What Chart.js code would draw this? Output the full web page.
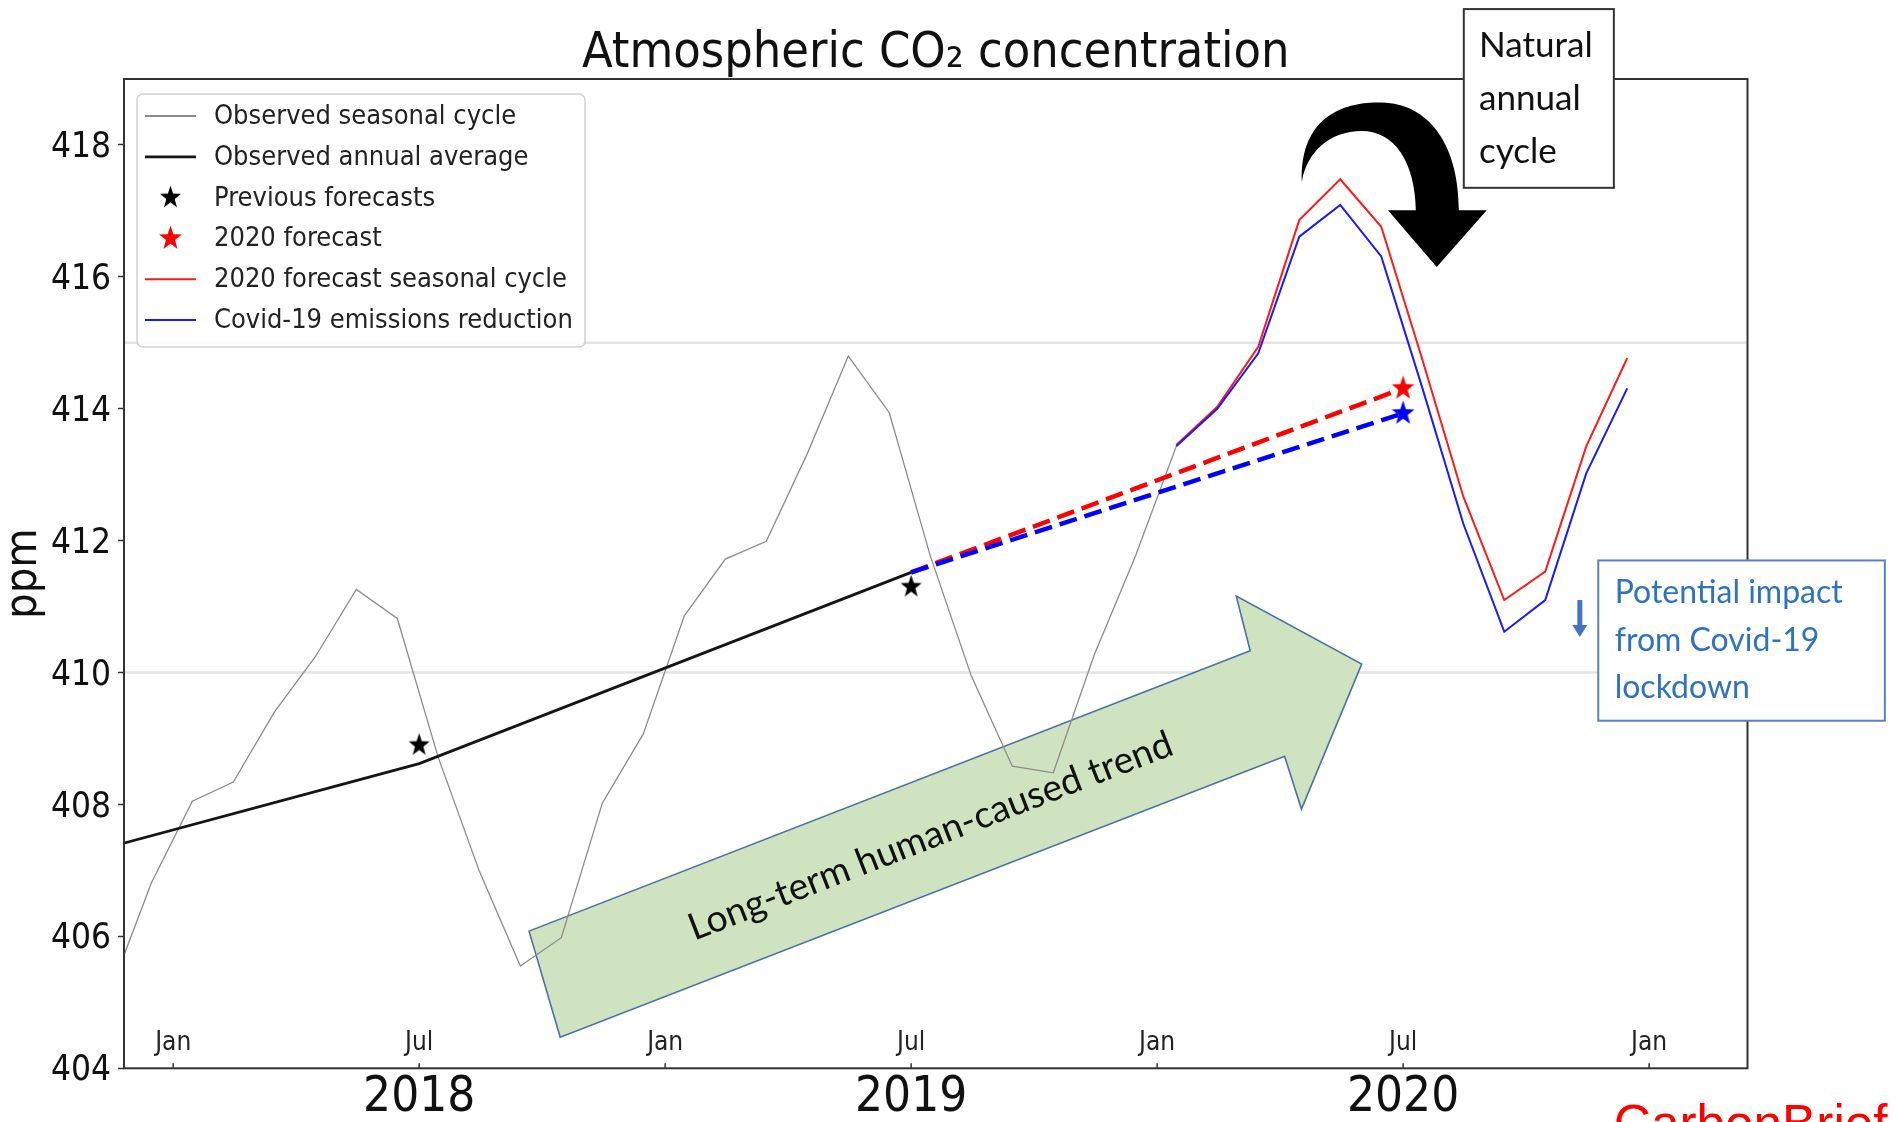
<!DOCTYPE html>
<html lang="en">
<head>
  <meta charset="UTF-8" />
  <title>Atmospheric CO2 concentration</title>
  <script src="https://cdn.jsdelivr.net/npm/chart.js"></script>
  <style>
    html, body { margin: 0; padding: 0; background: #fff; }
  </style>
</head>
<body>
  <canvas id="co2Chart" width="1898" height="1122"></canvas>

  <script>
    // --- data (ppm, monthly means plotted mid-month) ---
    const seasonalDates = ['2017-11', '2017-12',
      '2018-01', '2018-02', '2018-03', '2018-04', '2018-05', '2018-06', '2018-07', '2018-08', '2018-09', '2018-10', '2018-11', '2018-12',
      '2019-01', '2019-02', '2019-03', '2019-04', '2019-05', '2019-06', '2019-07', '2019-08', '2019-09', '2019-10', '2019-11', '2019-12',
      '2020-01'];
    const seasonalPpm = [405.17, 406.81,
      408.05, 408.34, 409.40, 410.24, 411.26, 410.82, 408.71, 406.99, 405.55, 405.98, 408.02, 409.07,
      410.86, 411.72, 411.99, 413.32, 414.80, 413.94, 411.77, 409.95, 408.58, 408.48, 410.27, 411.76,
      413.43];

    const annualDates = ['2017-07-01', '2018-07-01', '2019-07-01'];
    const annualPpm = [406.61, 408.62, 411.52];

    const previousDates = ['2018-07-01', '2019-07-01'];
    const previousPpm = [408.90, 411.30];

    const forecastDates = ['2020-07-01'];
    const forecastPpm = [414.31];
    const covidForecastPpm = [413.93];

    const cycleDates = ['2020-01', '2020-02', '2020-03', '2020-04', '2020-05', '2020-06',
      '2020-07', '2020-08', '2020-09', '2020-10', '2020-11', '2020-12'];
    const cyclePpm = [413.45, 414.03, 414.94, 416.86, 417.48, 416.76, 414.75, 412.67, 411.10, 411.53, 413.43, 414.77];
    const covidCyclePpm = [413.43, 414.00, 414.84, 416.61, 417.09, 416.31, 414.32, 412.26, 410.62, 411.10, 413.02, 414.31];

    // dashed trend from last annual average to the 2020 forecasts
    const trendDates = ['2019-07-01', '2020-07-01'];
    const trendPpm = [411.52, 414.31];
    const covidTrendPpm = [411.52, 413.93];

    // --- axes ---
    const yTicks = [404, 406, 408, 410, 412, 414, 416, 418];
    const gridValues = [410, 415];
    const monthTickDates = ['2018-01-01', '2018-07-01', '2019-01-01', '2019-07-01', '2020-01-01', '2020-07-01', '2021-01-01'];
    const monthTickNames = ['Jan', 'Jul', 'Jan', 'Jul', 'Jan', 'Jul', 'Jan'];
    const yearDates = ['2018-07-01', '2019-07-01', '2020-07-01'];
    const yearNames = ['2018', '2019', '2020'];

    // --- annotations, in (months since Jan 2018, ppm) ---
    const trendArrow = [[8.68, 406.08], [9.44, 404.47], [27.11, 408.73], [27.52, 407.93],
                        [28.99, 410.13], [25.93, 411.16], [26.27, 410.33]];
    const trendText = 'Long-term human-caused trend';
    const trendTextAt = [18.47, 407.52];

    const cycleArrow = [
      ['M', 27.53, 417.44],
      ['C', 27.48, 418.35, 28.40, 418.68, 29.58, 418.64],
      ['C', 30.70, 418.59, 31.36, 417.95, 31.36, 417.01],
      ['L', 32.04, 417.01], ['L', 30.82, 416.15], ['L', 29.63, 417.01], ['L', 30.31, 417.01],
      ['C', 30.29, 417.73, 29.80, 418.21, 28.99, 418.21],
      ['C', 28.21, 418.21, 27.65, 417.89, 27.53, 417.44]
    ];
    const naturalBox = [31.48, 420.06, 35.14, 417.35];
    const naturalLines = ['Natural', 'annual', 'cycle'];
    const naturalTextAt = [31.85, [419.34, 418.53, 417.73]];

    const covidBox = [34.76, 411.70, 41.75, 409.27];
    const covidLines = ['Potential impact', 'from Covid-19', 'lockdown'];
    const covidTextAt = [35.16, [411.06, 410.32, 409.61]];
    const covidArrow = [34.31, 411.10, 410.54];

    const FONT = '"DejaVu Sans Condensed", "DejaVu Sans", sans-serif';
    const NOTE_FONT = 'Lato, "Open Sans", sans-serif';

    function toX(s) {
      const [y, m, d] = s.split('-').map(Number);
      return (y - 2018) * 12 + (m - 1) + ((d || 15) - 1) / 30;
    }
    const pts = (dates, vals) => dates.map((d, i) => ({ x: toX(d), y: vals[i] }));

    function makeStar(color, size) {
      const c = document.createElement('canvas');
      c.width = c.height = size;
      const g = c.getContext('2d');
      const R = size / 2 - 0.5, r = R * 0.4;
      g.translate(size / 2, size / 2);
      g.scale(0.92, 1);
      g.beginPath();
      for (let i = 0; i < 10; i++) {
        const a = -Math.PI / 2 + i * Math.PI / 5;
        const rad = i % 2 ? r : R;
        g.lineTo(rad * Math.cos(a), rad * Math.sin(a));
      }
      g.closePath();
      g.fillStyle = color;
      g.fill();
      return c;
    }
    const blackStar = makeStar('#000', 25);
    const redStar = makeStar('#ff0000', 27);
    const blueStar = makeStar('#0000ff', 27);

    function fitFont(ctx, text, family, width) {
      ctx.font = '100px ' + family;
      const w = ctx.measureText(text).width;
      return (100 * width / w).toFixed(1) + 'px ' + family;
    }

    const decor = {
      id: 'decor',
      beforeDatasetsDraw(chart) {
        const { ctx, chartArea: a, scales: { x, y } } = chart;
        const P = (m, v) => [x.getPixelForValue(m), y.getPixelForValue(v)];
        ctx.save();
        ctx.strokeStyle = '#e4e4e4';
        ctx.lineWidth = 2.5;
        gridValues.forEach(v => {
          const py = y.getPixelForValue(v);
          ctx.beginPath(); ctx.moveTo(a.left, py); ctx.lineTo(a.right, py); ctx.stroke();
        });

        // green trend arrow
        ctx.beginPath();
        trendArrow.forEach(([m, v], i) => {
          const [px, py] = P(m, v);
          i ? ctx.lineTo(px, py) : ctx.moveTo(px, py);
        });
        ctx.closePath();
        ctx.fillStyle = '#d0e3c0';
        ctx.fill();
        ctx.strokeStyle = '#4a70a8';
        ctx.lineWidth = 1.6;
        ctx.stroke();

        const [ax, ay] = P(...trendArrow[0]);
        const [bx, by] = P(...trendArrow[6]);
        const [cx, cy] = P(...trendTextAt);
        ctx.translate(cx, cy);
        ctx.rotate(Math.atan2(by - ay, bx - ax));
        ctx.font = fitFont(ctx, trendText, NOTE_FONT, 516);
        ctx.fillStyle = '#111';
        ctx.textAlign = 'center';
        ctx.textBaseline = 'middle';
        ctx.fillText(trendText, 0, 0);
        ctx.restore();
      },
      afterDatasetsDraw(chart) {
        const { ctx, chartArea: a, scales: { x } } = chart;
        ctx.save();
        // frame
        ctx.strokeStyle = '#333';
        ctx.lineWidth = 2;
        ctx.strokeRect(a.left, a.top, a.right - a.left, a.bottom - a.top);

        // month ticks + labels inside the plot
        ctx.font = '26px ' + FONT;
        ctx.fillStyle = '#222';
        ctx.textAlign = 'center';
        ctx.textBaseline = 'alphabetic';
        ctx.lineWidth = 1.5;
        monthTickDates.forEach((d, i) => {
          const px = x.getPixelForValue(toX(d));
          ctx.beginPath(); ctx.moveTo(px, a.bottom); ctx.lineTo(px, a.bottom - 5); ctx.stroke();
          ctx.fillText(monthTickNames[i], px, a.bottom - 18);
        });

        // legend
        const items = chart.data.datasets.filter(d => d.inLegend);
        const lx = a.left + 13, ly = a.top + 15;
        ctx.beginPath();
        ctx.roundRect(lx, ly, 448, 253, 6);
        ctx.fillStyle = 'rgba(255,255,255,0.85)';
        ctx.fill();
        ctx.strokeStyle = '#d2d2d2';
        ctx.lineWidth = 1.5;
        ctx.stroke();
        ctx.font = '27px ' + FONT;
        ctx.textAlign = 'left';
        ctx.textBaseline = 'middle';
        items.forEach((d, i) => {
          const cy = a.top + 37 + i * 40.8;
          if (d.showLine === false) {
            const img = d.pointStyle;
            ctx.drawImage(img, a.left + 46.5 - img.width / 2, cy - img.height / 2);
          } else {
            ctx.beginPath();
            ctx.moveTo(a.left + 21, cy); ctx.lineTo(a.left + 72, cy);
            ctx.strokeStyle = d.borderColor;
            ctx.lineWidth = Math.max(d.borderWidth, 2);
            ctx.stroke();
          }
          ctx.fillStyle = '#222';
          ctx.fillText(d.label, a.left + 90, cy + 1);
        });
        ctx.restore();
      },
      afterDraw(chart) {
        const { ctx, chartArea: a, scales: { x, y } } = chart;
        const P = (m, v) => [x.getPixelForValue(m), y.getPixelForValue(v)];
        ctx.save();

        // title
        ctx.font = '50px ' + FONT;
        ctx.fillStyle = '#111';
        ctx.textAlign = 'center';
        ctx.textBaseline = 'alphabetic';
        ctx.fillText('Atmospheric CO\u2082 concentration', (a.left + a.right) / 2, a.top - 12.3);

        // curved "natural cycle" arrow
        ctx.beginPath();
        cycleArrow.forEach(([cmd, ...c]) => {
          const q = [];
          for (let i = 0; i < c.length; i += 2) q.push(...P(c[i], c[i + 1]));
          if (cmd === 'M') ctx.moveTo(...q);
          else if (cmd === 'L') ctx.lineTo(...q);
          else ctx.bezierCurveTo(...q);
        });
        ctx.closePath();
        ctx.fillStyle = '#000';
        ctx.fill();

        // note boxes
        const box = (b, stroke) => {
          const [x0, y0] = P(b[0], b[1]);
          const [x1, y1] = P(b[2], b[3]);
          ctx.fillStyle = '#fff';
          ctx.fillRect(x0, y0, x1 - x0, y1 - y0);
          ctx.strokeStyle = stroke;
          ctx.lineWidth = 2;
          ctx.strokeRect(x0, y0, x1 - x0, y1 - y0);
        };
        const lines = (txt, at, color, fitW) => {
          ctx.font = fitFont(ctx, txt[0], NOTE_FONT, fitW);
          ctx.fillStyle = color;
          ctx.textAlign = 'left';
          ctx.textBaseline = 'alphabetic';
          txt.forEach((t, i) => ctx.fillText(t, ...P(at[0], at[1][i])));
        };
        box(naturalBox, '#333');
        lines(naturalLines, naturalTextAt, '#111', 114);
        box(covidBox, '#5b80c0');
        lines(covidLines, covidTextAt, '#2f72c0', 228);

        // small down arrow
        const [dx, dTop] = P(covidArrow[0], covidArrow[1]);
        const dBot = y.getPixelForValue(covidArrow[2]);
        ctx.fillStyle = '#4472c4';
        ctx.fillRect(dx - 2.5, dTop, 5, dBot - dTop - 11);
        ctx.beginPath();
        ctx.moveTo(dx - 7.5, dBot - 12); ctx.lineTo(dx + 7.5, dBot - 12); ctx.lineTo(dx, dBot);
        ctx.closePath();
        ctx.fill();

        // watermark
        ctx.font = fitFont(ctx, 'CarbonBrief', '"Liberation Sans", Arial, sans-serif', 274);
        ctx.fillStyle = '#ff0000';
        ctx.fillText('CarbonBrief', ...P(35.14, 402.90));
        ctx.restore();
      }
    };

    const ctx = document.getElementById('co2Chart').getContext('2d');
    new Chart(ctx, {
      type: 'line',
      data: {
        datasets: [
          { label: 'Observed seasonal cycle', data: pts(seasonalDates, seasonalPpm), inLegend: true,
            borderColor: '#8c8c8c', borderWidth: 1.3, pointRadius: 0, order: 6 },
          { label: 'Observed annual average', data: pts(annualDates, annualPpm), inLegend: true,
            borderColor: '#151515', borderWidth: 2.8, pointRadius: 0, order: 5 },
          { label: 'Previous forecasts', data: pts(previousDates, previousPpm), inLegend: true,
            showLine: false, pointStyle: blackStar, pointRadius: 1, order: 0 },
          { label: '2020 forecast', data: pts(forecastDates, forecastPpm), inLegend: true,
            showLine: false, pointStyle: redStar, pointRadius: 1, order: 0 },
          { label: '2020 forecast seasonal cycle', data: pts(cycleDates, cyclePpm), inLegend: true,
            borderColor: '#ff1a1a', borderWidth: 2, pointRadius: 0, order: 2 },
          { label: 'Covid-19 emissions reduction', data: pts(cycleDates, covidCyclePpm), inLegend: true,
            borderColor: '#1a1aff', borderWidth: 2, pointRadius: 0, order: 1 },
          { label: 'trend to 2020 forecast', data: pts(trendDates, trendPpm),
            borderColor: '#ff0000', borderWidth: 4.5, borderDash: [18, 8], pointRadius: 0, order: 4 },
          { label: 'trend with Covid-19', data: pts(trendDates, covidTrendPpm),
            borderColor: '#0000ff', borderWidth: 4.5, borderDash: [18, 8],
            pointStyle: blueStar, pointRadius: [0, 1], order: 3 }
        ]
      },
      options: {
        responsive: false,
        animation: false,
        devicePixelRatio: 1,
        layout: { padding: { top: 79, right: 150.5, bottom: 0, left: 0 } },
        plugins: { legend: { display: false }, title: { display: false }, tooltip: { enabled: false } },
        scales: {
          x: {
            type: 'linear', min: -1.2, max: 38.4,
            afterBuildTicks: s => { s.ticks = yearDates.map(d => ({ value: toX(d) })); },
            afterFit: s => { s.height = 53.7; },
            grid: { display: false, drawTicks: false },
            border: { display: false },
            ticks: {
              autoSkip: false, maxRotation: 0, padding: 1, color: '#111',
              font: { family: FONT, size: 49 },
              callback: (v, i) => yearNames[i]
            }
          },
          y: {
            type: 'linear', min: 404, max: 419,
            afterBuildTicks: s => { s.ticks = yTicks.map(v => ({ value: v })); },
            afterFit: s => { s.width = 124; },
            grid: { drawOnChartArea: false, drawTicks: true, tickLength: 6, tickColor: '#333', tickWidth: 1.5 },
            border: { display: false },
            ticks: { padding: 7, labelOffset: 3, color: '#111', font: { family: FONT, size: 35 } },
            title: { display: true, text: 'ppm', color: '#111', padding: 0,
                     font: { family: FONT, size: 45, lineHeight: 1.1 } }
          }
        }
      },
      plugins: [decor]
    });
  </script>
</body>
</html>
